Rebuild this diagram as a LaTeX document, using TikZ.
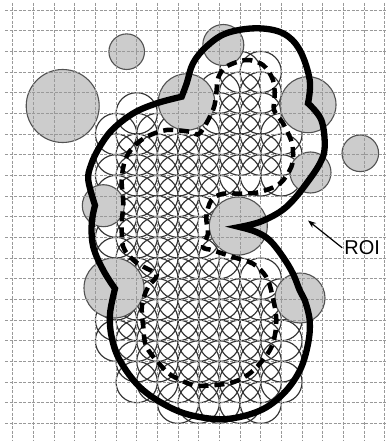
\documentclass[tikz,border=0pt]{standalone}
\usepackage{fontspec}
\setmainfont{Liberation Sans}
\usetikzlibrary{arrows.meta}
\begin{document}
\begin{tikzpicture}[x=1pt,y=-1pt,
  cell/.style={draw=black!80, line width=1.15pt},
  graycirc/.style={draw=black!68, fill=black!20, line width=1.1pt},
  gridline/.style={draw=black!40, line width=0.8pt, dash pattern=on 3pt off 1.5pt},
  roiline/.style={draw=black, line width=6.3pt, line join=miter, miter limit=6},
  dashline/.style={draw=black, line width=4.5pt, dash pattern=on 10pt off 6pt},
  lbl/.style={font=\fontsize{20}{24}\selectfont, inner sep=2pt},
  pointer/.style={-{Stealth[length=8pt,width=6pt]}, line width=1.2pt},
]
\useasboundingbox (0,0) rectangle (386,441);
\fill[white] (0,0) rectangle (386,441);
% white sample circles on grid points
\foreach \j/\a/\b in {3/11/12, 4/10/12, 5/6/6, 5/10/12, 6/5/13, 7/5/13, 8/5/13, 9/5/10, 10/5/9, 11/5/9, 12/5/10, 13/6/12, 14/5/13, 15/5/13, 16/5/13, 17/6/13, 18/6/13, 19/8/12}{
  \foreach \i in {\a,...,\b}{
    \draw[cell] ({12.7+20.67*\i},{10+20.67*\j}) circle[radius=20.67];
  }
}
% gray circles
\foreach \x/\y/\r in {126.7/51.7/17.8, 62.7/106/36.5, 186.5/102/28.2, 223.3/45/20.5, 308/104.7/28, 360.3/153.3/18.3, 103.3/205.7/21, 310.5/172.5/20.5, 238.3/226/29, 114/288/30, 300/298/25}{
  \draw[graycirc] (\x,\y) circle[radius=\r];
}
% grid
\foreach \i in {0,...,18}{
  \draw[gridline] ({12.7+20.67*\i},3) -- ({12.7+20.67*\i},440);
}
\foreach \j in {0,...,20}{
  \draw[gridline] (5,{10+20.67*\j}) -- (386,{10+20.67*\j});
}
% dashed contour
\draw[dashline] plot[smooth cycle, tension=0.55] coordinates {
 (199.7,133.3) (213,110) (216.3,93.3) (218,78.3) (226.3,66.7) (246.3,60) (263,65) (273,80) (274.7,96.7) (274,110) (283,123.3) (291,140) (293,152) (291.3,167) (279.7,183.7) (259.7,192) (243,193.7) (223,193.7) (211.3,200.3) (206.3,217) (208,233.7) (203,247) (213,250.3) (233,257) (253,263.7) (266.3,277) (272,294) (276.3,320.7) (271.3,347.3) (253,370.7) (233,382.3) (206.3,385.7) (193,385) (176.7,378.3) (165,370) (146.7,347.3) (143.3,327) (141.7,310) (143.3,299) (148.3,286.7) (156.7,275) (143.3,266.7) (133.3,260) (123.3,247) (121.7,223.7) (123.3,203.7) (121.7,180.3) (125,160.3) (133.3,147) (146.7,136.7) (166.7,130) (190,131.7)};
% ROI outline
\draw[roiline] plot[smooth, tension=0.6] coordinates {(239.7,227) (259.7,222) (279.7,212) (293,200.3) (306.3,183.7) (319.7,163.7) (324.7,147) (321.3,120) (308,103.3)}
 -- plot[smooth, tension=0.6] coordinates {(308,103.3) (309.7,80) (299.7,50) (283,33.3) (256.3,28.3) (226.3,33.3) (206.3,46.7) (193,63.3) (186.7,83.3) (181.7,96.7)}
 -- plot[smooth, tension=0.6] coordinates {(181.7,96.7) (156.7,103.3) (133.3,113.3) (112,130) (99,148) (91,165) (88.3,180.3) (95,205.3)}
 -- plot[smooth, tension=0.6] coordinates {(95,205.3) (91.7,223.7) (93.3,247) (103.3,270.3) (115,288.7)}
 -- plot[smooth, tension=0.6] coordinates {(115,288.7) (110,314) (111.7,337.3) (120,360.7) (140,387.3) (166.7,405.7) (193,415.7) (226.3,419) (259.7,410.7) (283,394) (299.7,370.7) (308,344) (309.7,320.7) (304.7,300) (299.7,290.3) (293,273.7) (283,257) (269.7,240.3) (256.3,232) (239.7,227)} -- cycle;
% label
\node[lbl] (roi) at (362.2,247.8) {ROI};
\coordinate (tip) at (308,220.5);
\draw[pointer] (roi.west) -- (tip);
\end{tikzpicture}
\end{document}
